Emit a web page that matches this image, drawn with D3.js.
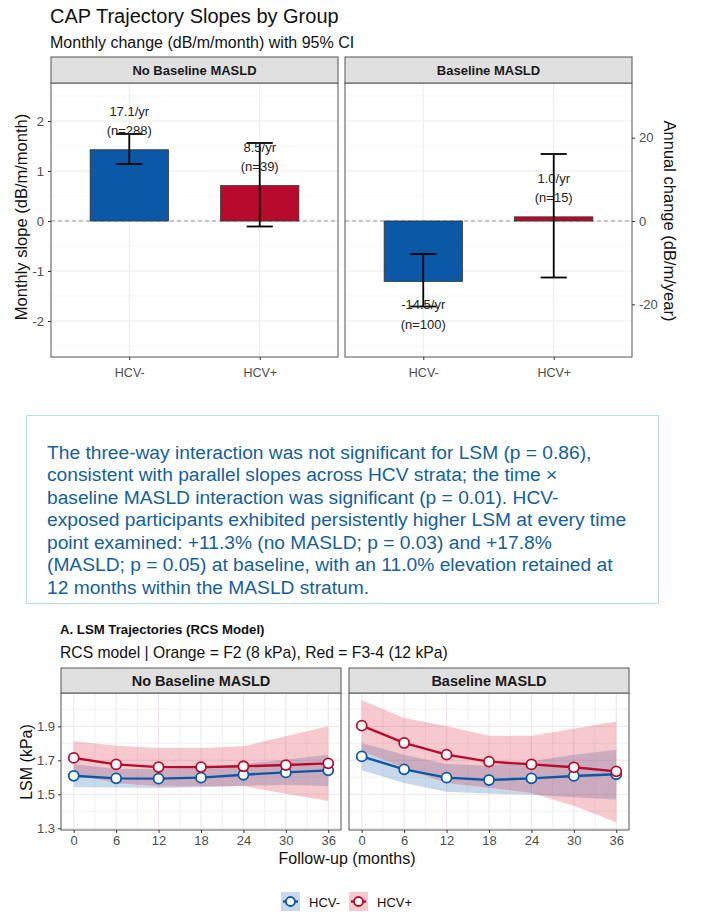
<!DOCTYPE html>
<html>
<head>
<meta charset="utf-8">
<script src="https://cdn.jsdelivr.net/npm/d3@7"></script>
<style>
  body { margin: 0; background: #fff; }
  svg { display: block; font-family: "Liberation Sans", Arial, sans-serif; }
</style>
</head>
<body>
<div id="container"></div>
<script>
// ---------------- data ----------------
var facets = ["No Baseline MASLD", "Baseline MASLD"];
var hcvGroups = ["HCV-", "HCV+"];

// top chart: monthly CAP slope, one row per facet, [HCV-, HCV+]
var slopeMonthly = [[1.425, 0.708], [-1.208, 0.083]];
var slopeLow = [[1.14, -0.11], [-1.71, -1.13]];
var slopeHigh = [[1.74, 1.56], [-0.66, 1.34]];
var annualLabels = [["17.1/yr", "8.5/yr"], ["-14.5/yr", "1.0/yr"]];
var nLabels = [["(n=288)", "(n=39)"], ["(n=100)", "(n=15)"]];
var slopeTicks = [-2, -1, 0, 1, 2];
var annualTicks = [-20, 0, 20];

// bottom chart: LSM trajectories
var months = [0, 6, 12, 18, 24, 30, 36];
var lsmNeg = [
  [1.609, 1.594, 1.592, 1.598, 1.615, 1.629, 1.641],
  [1.723, 1.647, 1.598, 1.584, 1.594, 1.608, 1.618]
];
var lsmNegLow = [
  [1.541, 1.540, 1.537, 1.541, 1.550, 1.555, 1.549],
  [1.641, 1.566, 1.515, 1.505, 1.497, 1.483, 1.470]
];
var lsmNegHigh = [
  [1.677, 1.650, 1.647, 1.655, 1.680, 1.703, 1.733],
  [1.802, 1.733, 1.678, 1.668, 1.694, 1.733, 1.762]
];
var lsmPos = [
  [1.714, 1.676, 1.660, 1.660, 1.665, 1.672, 1.682],
  [1.904, 1.802, 1.733, 1.692, 1.676, 1.659, 1.635]
];
var lsmPosLow = [
  [1.616, 1.566, 1.548, 1.548, 1.548, 1.503, 1.460],
  [1.755, 1.655, 1.566, 1.539, 1.507, 1.433, 1.335]
];
var lsmPosHigh = [
  [1.812, 1.786, 1.772, 1.772, 1.782, 1.841, 1.900],
  [2.053, 1.949, 1.900, 1.845, 1.845, 1.885, 1.929]
];
var lsmTicks = [1.3, 1.5, 1.7, 1.9];
var lsmMinor = [1.4, 1.6, 1.8, 2.0];
var monthMinor = [3, 9, 15, 21, 27, 33];

var noteLines = [
  "The three-way interaction was not significant for LSM (p = 0.86),",
  "consistent with parallel slopes across HCV strata; the time \u00d7",
  "baseline MASLD interaction was significant (p = 0.01). HCV-",
  "exposed participants exhibited persistently higher LSM at every time",
  "point examined: +11.3% (no MASLD; p = 0.03) and +17.8%",
  "(MASLD; p = 0.05) at baseline, with an 11.0% elevation retained at",
  "12 months within the MASLD stratum."
];

var colors = ["#0b58a6", "#b80a2c"];
var ribbonColors = ["#2166ac", "#d6263d"];

// ---------------- svg ----------------
const width = 714;
const height = 923;
const svg = d3.select("div#container").append("svg")
    .attr("width", width)
    .attr("height", height);
svg.append("rect").attr("width", width).attr("height", height).attr("fill", "#fff");

function styleAxis(a, size) {
  a.select(".domain").remove();
  a.selectAll("line").attr("stroke", "#333");
  a.selectAll("text").attr("font-size", size).attr("fill", "#4d4d4d").attr("font-family", null);
}

//------------------------ TOP CHART ------------------------//
svg.append("text").attr("x", 50).attr("y", 23)
    .attr("font-size", 20).attr("fill", "#111").text("CAP Trajectory Slopes by Group");
svg.append("text").attr("x", 50).attr("y", 48)
    .attr("font-size", 16).attr("fill", "#111").text("Monthly change (dB/m/month) with 95% CI");

const topPanels = [[51, 338], [345, 632]];
const topY0 = 83, topY1 = 357, stripTop = 57;
const yTop = d3.scaleLinear().domain([-2.72, 2.76]).range([topY1, topY0]);
const yAnnual = d3.scaleLinear().domain([-2.72 * 12, 2.76 * 12]).range([topY1, topY0]);

topPanels.forEach(function(p, fi) {
  const xs = d3.scaleLinear().domain([0.4, 2.6]).range(p);
  const g = svg.append("g");

  // grid
  d3.range(-2.5, 3, 1).forEach(function(v) {
    g.append("line").attr("x1", p[0]).attr("x2", p[1])
      .attr("y1", yTop(v)).attr("y2", yTop(v))
      .attr("stroke", "#f4f4f4").attr("stroke-width", 0.6);
  });
  slopeTicks.forEach(function(v) {
    g.append("line").attr("x1", p[0]).attr("x2", p[1])
      .attr("y1", yTop(v)).attr("y2", yTop(v))
      .attr("stroke", "#ebebeb").attr("stroke-width", 1);
  });
  hcvGroups.forEach(function(h, i) {
    g.append("line").attr("x1", xs(i + 1)).attr("x2", xs(i + 1))
      .attr("y1", topY0).attr("y2", topY1)
      .attr("stroke", "#ebebeb").attr("stroke-width", 1);
  });
  g.append("line").attr("x1", p[0]).attr("x2", p[1])
    .attr("y1", yTop(0)).attr("y2", yTop(0))
    .attr("stroke", "#8c8c8c").attr("stroke-width", 0.9)
    .attr("stroke-dasharray", "4,3");

  // bars
  hcvGroups.forEach(function(h, i) {
    const v = slopeMonthly[fi][i];
    const cx = xs(i + 1);
    g.append("rect")
      .attr("x", xs(i + 0.7)).attr("width", xs(i + 1.3) - xs(i + 0.7))
      .attr("y", yTop(Math.max(0, v)))
      .attr("height", Math.abs(yTop(v) - yTop(0)))
      .attr("fill", colors[i]).attr("stroke", "#333").attr("stroke-width", 0.8);
    // error bar
    const lo = yTop(slopeLow[fi][i]), hi = yTop(slopeHigh[fi][i]);
    const ew = xs(i + 1.1) - xs(i + 1);
    g.append("line").attr("x1", cx).attr("x2", cx).attr("y1", lo).attr("y2", hi)
      .attr("stroke", "#000").attr("stroke-width", 1.8);
    [lo, hi].forEach(function(yy) {
      g.append("line").attr("x1", cx - ew).attr("x2", cx + ew).attr("y1", yy).attr("y2", yy)
        .attr("stroke", "#000").attr("stroke-width", 1.8);
    });
    // labels
    const yb = yTop(v);
    const l1 = v >= 0 ? yb - 34 : yb + 28;
    g.append("text").attr("x", cx).attr("y", l1).attr("text-anchor", "middle")
      .attr("font-size", 13).attr("fill", "#222").text(annualLabels[fi][i]);
    g.append("text").attr("x", cx).attr("y", l1 + 19.5).attr("text-anchor", "middle")
      .attr("font-size", 13).attr("fill", "#222").text(nLabels[fi][i]);
  });

  // border + strip
  g.append("rect").attr("x", p[0]).attr("y", topY0).attr("width", p[1] - p[0]).attr("height", topY1 - topY0)
    .attr("fill", "none").attr("stroke", "#555").attr("stroke-width", 1);
  g.append("rect").attr("x", p[0]).attr("y", stripTop).attr("width", p[1] - p[0]).attr("height", topY0 - stripTop)
    .attr("fill", "#e0e0e0").attr("stroke", "#555").attr("stroke-width", 1);
  g.append("text").attr("x", (p[0] + p[1]) / 2).attr("y", 74.5).attr("text-anchor", "middle")
    .attr("font-size", 13).attr("font-weight", "bold").attr("fill", "#1a1a1a").text(facets[fi]);

  // x axis
  const xa = svg.append("g").attr("transform", "translate(0," + topY1 + ")")
    .call(d3.axisBottom(xs).tickValues([1, 2]).tickSize(3).tickPadding(8)
      .tickFormat(function(d) { return hcvGroups[d - 1]; }));
  styleAxis(xa, 12.5);
});

// y axes (left and secondary right)
const yaL = svg.append("g").attr("transform", "translate(" + topPanels[0][0] + ",0)")
  .call(d3.axisLeft(yTop).tickValues(slopeTicks).tickSize(3).tickPadding(4)
    .tickFormat(function(d) { return String(d); }));
const yaR = svg.append("g").attr("transform", "translate(" + topPanels[1][1] + ",0)")
  .call(d3.axisRight(yAnnual).tickValues(annualTicks).tickSize(3).tickPadding(4)
    .tickFormat(function(d) { return String(d); }));
styleAxis(yaL, 13);
styleAxis(yaR, 13);
svg.append("text").attr("transform", "translate(27,217) rotate(-90)").attr("text-anchor", "middle")
  .attr("font-size", 16.5).attr("fill", "#111").text("Monthly slope (dB/m/month)");
svg.append("text").attr("transform", "translate(664,221) rotate(90)").attr("text-anchor", "middle")
  .attr("font-size", 16.5).attr("fill", "#111").text("Annual change (dB/m/year)");

//------------------------ NOTE BOX ------------------------//
svg.append("rect").attr("x", 26.5).attr("y", 415.5).attr("width", 632).attr("height", 188)
  .attr("fill", "#fff").attr("stroke", "#b8dcec").attr("stroke-width", 1);
svg.append("g").selectAll("text").data(noteLines).enter().append("text")
  .attr("x", 47).attr("y", function(d, i) { return 458.5 + i * 22.5; })
  .attr("font-size", 19.2).attr("fill", "#13609e").text(function(d) { return d; });

//------------------------ BOTTOM CHART ------------------------//
svg.append("text").attr("x", 60).attr("y", 634).attr("font-size", 13.2).attr("font-weight", "bold")
  .attr("fill", "#111").text("A. LSM Trajectories (RCS Model)");
svg.append("text").attr("x", 60).attr("y", 657.5).attr("font-size", 15.7)
  .attr("fill", "#111").text("RCS model | Orange = F2 (8 kPa), Red = F3-4 (12 kPa)");

const botPanels = [[61, 341], [349, 629]];
const bY0 = 693, bY1 = 830, bStrip = 668;
const yB = d3.scaleLinear().domain([1.29, 2.096]).range([bY1, bY0]);

const area = d3.area()
  .x(function(d) { return d.x; })
  .y0(function(d) { return d.lo; })
  .y1(function(d) { return d.hi; });
const line = d3.line()
  .x(function(d) { return d.x; })
  .y(function(d) { return d.y; });

botPanels.forEach(function(p, fi) {
  const xB = d3.scaleLinear().domain([-1.8, 37.8]).range(p);
  const g = svg.append("g");

  lsmMinor.forEach(function(v) {
    g.append("line").attr("x1", p[0]).attr("x2", p[1]).attr("y1", yB(v)).attr("y2", yB(v))
      .attr("stroke", "#f2eef2").attr("stroke-width", 0.8);
  });
  monthMinor.forEach(function(v) {
    g.append("line").attr("x1", xB(v)).attr("x2", xB(v)).attr("y1", bY0).attr("y2", bY1)
      .attr("stroke", "#f2e8f2").attr("stroke-width", 0.8);
  });
  lsmTicks.forEach(function(v) {
    g.append("line").attr("x1", p[0]).attr("x2", p[1]).attr("y1", yB(v)).attr("y2", yB(v))
      .attr("stroke", "#ebe6eb").attr("stroke-width", 1);
  });
  months.forEach(function(v) {
    g.append("line").attr("x1", xB(v)).attr("x2", xB(v)).attr("y1", bY0).attr("y2", bY1)
      .attr("stroke", "#efe2ef").attr("stroke-width", 1);
  });

  const series = [
    { mean: lsmNeg[fi], lo: lsmNegLow[fi], hi: lsmNegHigh[fi] },
    { mean: lsmPos[fi], lo: lsmPosLow[fi], hi: lsmPosHigh[fi] }
  ];
  series.forEach(function(s, si) {
    g.append("path")
      .datum(months.map(function(m, k) { return { x: xB(m), lo: yB(s.lo[k]), hi: yB(s.hi[k]) }; }))
      .attr("d", area).attr("fill", ribbonColors[si]).attr("fill-opacity", 0.25);
  });
  series.forEach(function(s, si) {
    const pts = months.map(function(m, k) { return { x: xB(m), y: yB(s.mean[k]) }; });
    g.append("path").datum(pts).attr("d", line)
      .attr("fill", "none").attr("stroke", colors[si]).attr("stroke-width", 2.4);
    g.selectAll(null).data(pts).enter().append("circle")
      .attr("cx", function(d) { return d.x; }).attr("cy", function(d) { return d.y; })
      .attr("r", 5).attr("fill", "#fff").attr("stroke", colors[si]).attr("stroke-width", 1.8);
  });

  g.append("rect").attr("x", p[0]).attr("y", bY0).attr("width", p[1] - p[0]).attr("height", bY1 - bY0)
    .attr("fill", "none").attr("stroke", "#555").attr("stroke-width", 1);
  g.append("rect").attr("x", p[0]).attr("y", bStrip).attr("width", p[1] - p[0]).attr("height", bY0 - bStrip)
    .attr("fill", "#e0e0e0").attr("stroke", "#555").attr("stroke-width", 1);
  g.append("text").attr("x", (p[0] + p[1]) / 2).attr("y", 686).attr("text-anchor", "middle")
    .attr("font-size", 14.5).attr("font-weight", "bold").attr("fill", "#1a1a1a").text(facets[fi]);

  const xa = svg.append("g").attr("transform", "translate(0," + bY1 + ")")
    .call(d3.axisBottom(xB).tickValues(months).tickSize(3).tickPadding(3));
  styleAxis(xa, 13);
});

const yaB = svg.append("g").attr("transform", "translate(" + botPanels[0][0] + ",0)")
  .call(d3.axisLeft(yB).tickValues(lsmTicks).tickSize(3).tickPadding(3).tickFormat(d3.format(".1f")));
styleAxis(yaB, 13);

svg.append("text").attr("transform", "translate(32,762) rotate(-90)").attr("text-anchor", "middle")
  .attr("font-size", 16).attr("fill", "#111").text("LSM (kPa)");
svg.append("text").attr("x", 347).attr("y", 864).attr("text-anchor", "middle")
  .attr("font-size", 16).attr("fill", "#111").text("Follow-up (months)");

// legend
const legX = [281, 349];
hcvGroups.forEach(function(h, i) {
  const lg = svg.append("g").attr("transform", "translate(" + legX[i] + ",892)");
  lg.append("rect").attr("width", 19).attr("height", 19)
    .attr("fill", ribbonColors[i]).attr("fill-opacity", 0.25);
  lg.append("line").attr("x1", 2).attr("x2", 17).attr("y1", 9.5).attr("y2", 9.5)
    .attr("stroke", colors[i]).attr("stroke-width", 2.4);
  lg.append("circle").attr("cx", 9.5).attr("cy", 9.5).attr("r", 4.5)
    .attr("fill", "#fff").attr("stroke", colors[i]).attr("stroke-width", 1.8);
  lg.append("text").attr("x", 28).attr("y", 14.5).attr("font-size", 13).attr("fill", "#111").text(h);
});
</script>
</body>
</html>
